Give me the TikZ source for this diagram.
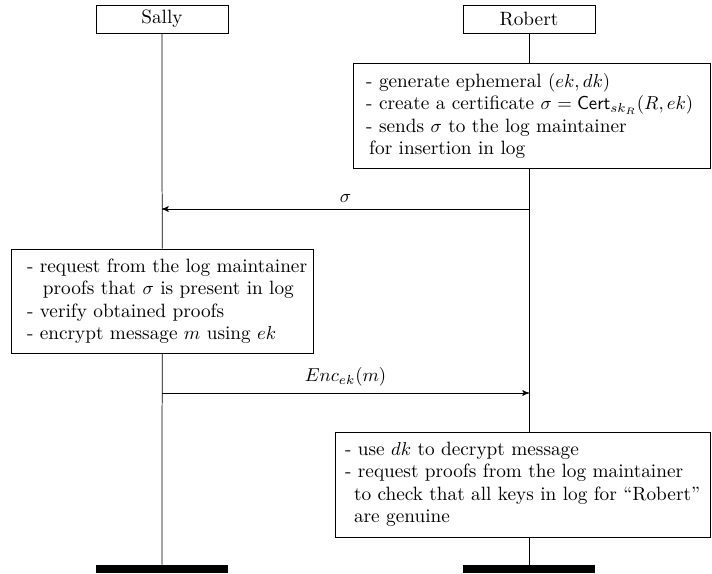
\documentclass[tikz,border=0pt]{standalone}
\usepackage{amsmath}
\usetikzlibrary{arrows, positioning}

\begin{document}
\begin{tikzpicture}[x=0.5348pt,y=-0.5348pt,>=stealth',
 every node/.style={font=\fontsize{10.3}{12}\selectfont},
 actor/.style={draw, minimum width=70.6pt, minimum height=15pt, inner sep=0pt},
 note/.style={draw, align=left, inner ysep=0pt},
 endbar/.style={fill=black, minimum width=70.6pt, minimum height=4.3pt, inner sep=0pt}]
   \useasboundingbox (0,0) rectangle (712,573);
   \node[actor] (sally) at (162,19) {Sally};
   \node[actor] (robert) at (529,19) {Robert};

   \node[note, text width=177.3pt, inner xsep=6.8pt, minimum height=56pt] (gen) at (532,116) {
    - generate ephemeral $(ek, dk)$\\
    \mbox{- create a certificate $\sigma = \mathsf{Cert}_{sk_R}(R, ek)$}\\
    - sends $\sigma$ to the log maintainer\\
    \hspace*{1.6pt}for insertion in log};
   \node[note, text width=144.6pt, inner xsep=8.6pt, minimum height=55.6pt] (prove) at (162.2,301) {
    \mbox{- request from the log maintainer}\\
    \mbox{\hspace*{8.5pt}proofs that $\sigma$ is present in log}\\
    - verify obtained proofs\\
    - encrypt message $m$ using $ek$};
   \node[note, text width=190.1pt, inner xsep=5.35pt, minimum height=56.2pt] (check) at (522.8,484.5) {
    - use $dk$ to decrypt message\\
    - request proofs from the log maintainer\\
    \mbox{\hspace*{4.8pt}to check that all keys in log for ``Robert''}\\
    \hspace*{4.8pt}are genuine};

   \node[endbar] (sally-end) at (162,569) {};
   \node[endbar] (robert-end) at (529,569) {};

   % lifelines
   \draw (sally) -- (prove);
   \draw (prove) -- (sally-end);
   \draw (robert) -- (robert |- gen.north);
   \draw (robert |- gen.south) -- (robert |- check.north);
   \draw (robert |- check.south) -- (robert-end);

   % messages
   \coordinate (r-sig) at (529,209);
   \coordinate (s-sig) at (162,209);
   \coordinate (s-enc) at (162,393);
   \coordinate (r-enc) at (529,393);
   \draw[->] (r-sig) -- node[above] {$\sigma$} (s-sig);
   \draw[->] (s-enc) -- node[above] {$Enc_{ek}(m)$} (r-enc);
\end{tikzpicture}
\end{document}
